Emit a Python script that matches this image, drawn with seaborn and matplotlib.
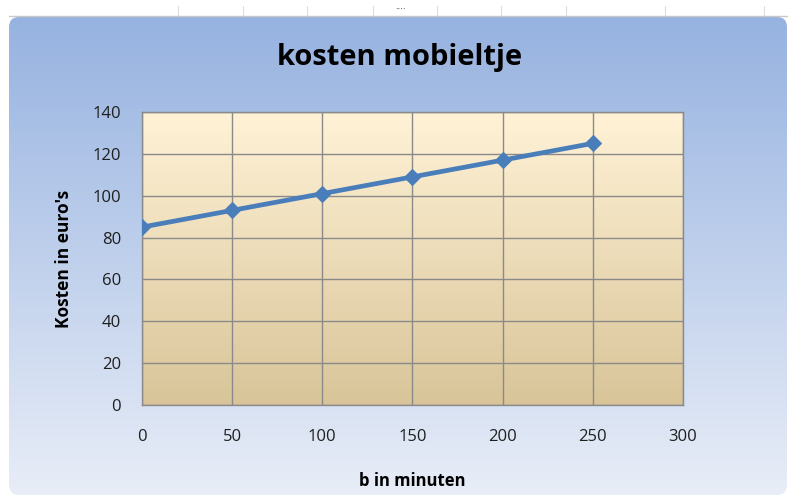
import numpy as np
import pandas as pd
import matplotlib.pyplot as plt
import seaborn as sns
from matplotlib.patches import FancyBboxPatch

# data
minuten = [0, 50, 100, 150, 200, 250]
kosten = [85, 93, 101, 109, 117, 125]
x_ticks = [0, 50, 100, 150, 200, 250, 300]
y_ticks = [0, 20, 40, 60, 80, 100, 120, 140]

df = pd.DataFrame({'b in minuten': minuten, 'Kosten': kosten})

sns.set_style('white')
plt.rcParams['font.family'] = ['Open Sans', 'DejaVu Sans']

fig = plt.figure(figsize=(7.95, 4.99), dpi=100)
fig.patch.set_facecolor('white')

# chart background (blue gradient, rounded box)
bg = fig.add_axes([0, 0, 1, 1], zorder=-10)
bg.set_xlim(0, 795)
bg.set_ylim(499, 0)
bg.axis('off')
grad = np.linspace(0, 1, 256).reshape(-1, 1)
top_c = np.array([0.59, 0.70, 0.88])
bot_c = np.array([0.91, 0.93, 0.97])
img = top_c + (bot_c - top_c) * grad[..., None]
im = bg.imshow(img, extent=[9, 787, 495, 17], aspect='auto')
clip = FancyBboxPatch((9, 17), 778, 478, boxstyle='round,pad=0,rounding_size=10',
                      transform=bg.transData, facecolor='none', edgecolor='none')
bg.add_patch(clip)
im.set_clip_path(clip)
# ruler-like strip at the top
bg.plot([9, 787], [16, 16], color='#c8c8c8', lw=1)
for xr in [178, 243, 307, 373, 437, 501, 566, 665, 764]:
    bg.plot([xr, xr], [6, 15], color='#dcdcdc', lw=0.8)
bg.text(400, 10, '····', ha='center', va='center', fontsize=7, color='#666666')

# plot area
ax = fig.add_axes([142 / 795, 94 / 499, 541 / 795, 293 / 499])
pa_top = np.array([1.0, 0.95, 0.84])
pa_bot = np.array([0.85, 0.77, 0.60])
pimg = pa_top + (pa_bot - pa_top) * grad[..., None]
ax.imshow(pimg, extent=[0, 300, 0, 140], aspect='auto', zorder=0)

sns.lineplot(data=df, x='b in minuten', y='Kosten', ax=ax, color='#4a7ebb',
             linewidth=3.4, marker='D', markersize=8.5, markeredgecolor='#4a7ebb', zorder=5)

ax.set_xlim(0, 300)
ax.set_ylim(0, 140)
ax.set_xticks(x_ticks)
ax.set_yticks(y_ticks)
ax.grid(True, color='#8a8a8a', linewidth=1)
ax.set_axisbelow(False)
for s in ax.spines.values():
    s.set_color('#8a8a8a')
    s.set_linewidth(1)
ax.tick_params(axis='both', length=6, color='#8a8a8a', labelsize=12, labelcolor='#1f1f1f')
ax.tick_params(axis='x', pad=11)
ax.tick_params(axis='y', pad=9)

ax.set_xlabel('b in minuten', fontsize=12, fontweight='bold', labelpad=20, color='black')
ax.set_ylabel("Kosten in euro's", fontsize=12.5, fontweight='bold', labelpad=14, color='black')

fig.text(400 / 795, 1 - 58 / 499, 'kosten mobieltje', ha='center', va='center',
         fontsize=21, fontweight='bold', color='black')

fig.savefig('out.png', dpi=100)
